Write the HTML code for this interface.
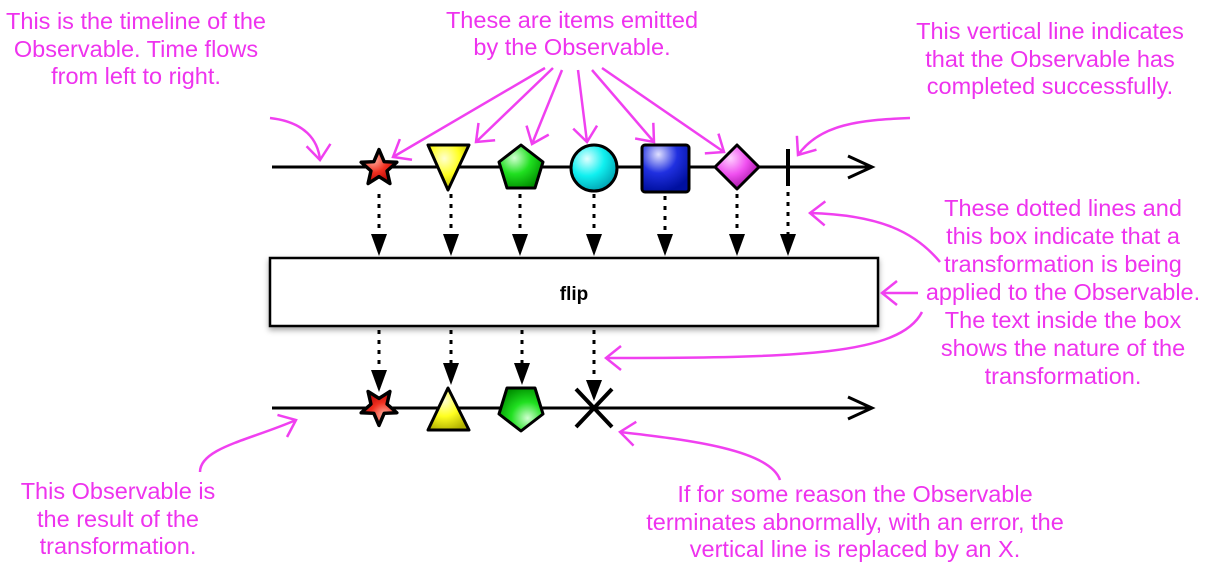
<!DOCTYPE html>
<html><head><meta charset="utf-8"><style>
body{margin:0;background:#fff;width:1210px;height:570px;overflow:hidden}
svg{display:block}
.t{font-family:"Liberation Sans",Helvetica,sans-serif;font-size:23.5px;fill:#ee33ee;text-anchor:middle}
.m{stroke:#f040f0;stroke-width:2.5;fill:none}
.k{stroke:#000;stroke-width:3;fill:none}
.d{stroke:#000;stroke-width:3;stroke-dasharray:4 6;fill:none}
.s{stroke:#000;stroke-width:3;stroke-linejoin:round}
</style></head><body>
<svg width="1210" height="570" viewBox="0 0 1210 570">
<defs>
<marker id="ma" viewBox="0 0 12 12" refX="11" refY="6" markerWidth="12" markerHeight="12" orient="auto" markerUnits="userSpaceOnUse" style="overflow:visible">
<path d="M-4,-6 L11,6 L-4,18" stroke="#f040f0" stroke-width="2.5" fill="none"/>
</marker>
<radialGradient id="gr" cx="35%" cy="30%" r="75%"><stop offset="0" stop-color="#ffb0a0"/><stop offset=".5" stop-color="#f03020"/><stop offset="1" stop-color="#b00000"/></radialGradient>
<radialGradient id="gy" cx="40%" cy="30%" r="75%"><stop offset="0" stop-color="#ffffd0"/><stop offset=".5" stop-color="#ffff20"/><stop offset="1" stop-color="#b0b000"/></radialGradient>
<radialGradient id="gg" cx="35%" cy="30%" r="75%"><stop offset="0" stop-color="#d0ffd0"/><stop offset=".5" stop-color="#20e020"/><stop offset="1" stop-color="#009000"/></radialGradient>
<radialGradient id="gc" cx="35%" cy="30%" r="75%"><stop offset="0" stop-color="#e0ffff"/><stop offset=".5" stop-color="#10f0f0"/><stop offset="1" stop-color="#00a0b0"/></radialGradient>
<radialGradient id="gb" cx="35%" cy="20%" r="80%"><stop offset="0" stop-color="#e0e0ff"/><stop offset=".5" stop-color="#2030e0"/><stop offset="1" stop-color="#0010a0"/></radialGradient>
<radialGradient id="gm" cx="35%" cy="30%" r="75%"><stop offset="0" stop-color="#ffd0ff"/><stop offset=".5" stop-color="#f050f0"/><stop offset="1" stop-color="#a010a0"/></radialGradient>
</defs>

<line x1="272" y1="167" x2="872" y2="167" class="k"/>
<path d="M848,156 L872,167 L848,178" class="k"/>
<path transform="translate(379,168) scale(1.15)" d="M0,-16 L4.5,-5.5 L15.5,-5 L7,2.5 L9.5,13.5 L0,7.5 L-9.5,13.5 L-7,2.5 L-15.5,-5 L-4.5,-5.5Z" fill="url(#gr)" class="s"/>
<path d="M428,145 L469,145 L448,190Z" fill="url(#gy)" class="s"/>
<path transform="translate(521,168)" d="M0,-23 L22,-6 L14,20 L-14,20 L-22,-6Z" fill="url(#gg)" class="s"/>
<circle cx="594" cy="168" r="23" fill="url(#gc)" class="s"/>
<rect x="642" y="145" width="47" height="47" rx="3" fill="url(#gb)" class="s"/>
<path d="M737,145 L759,167 L737,189 L715,167Z" fill="url(#gm)" class="s"/>
<line x1="788" y1="149" x2="788" y2="186" stroke="#000" stroke-width="4"/>

<g>
<line x1="379" y1="194" x2="379" y2="236" class="d"/><path d="M371,234 L387,234 L379,256Z"/>
<line x1="451" y1="194" x2="451" y2="236" class="d"/><path d="M443,234 L459,234 L451,256Z"/>
<line x1="520" y1="194" x2="520" y2="236" class="d"/><path d="M512,234 L528,234 L520,256Z"/>
<line x1="594" y1="194" x2="594" y2="236" class="d"/><path d="M586,234 L602,234 L594,256Z"/>
<line x1="665" y1="196" x2="665" y2="236" class="d"/><path d="M657,234 L673,234 L665,256Z"/>
<line x1="737" y1="194" x2="737" y2="236" class="d"/><path d="M729,234 L745,234 L737,256Z"/>
<line x1="788" y1="192" x2="788" y2="236" class="d"/><path d="M780,234 L796,234 L788,256Z"/>
</g>

<rect x="270" y="258" width="608" height="68" fill="#fff" stroke="#000" stroke-width="2.5" style="filter:drop-shadow(0 3px 3px rgba(0,0,0,.35))"/>
<text x="574" y="300" style="font-family:'Liberation Sans',sans-serif;font-size:19px;font-weight:bold;text-anchor:middle">flip</text>

<line x1="379" y1="330" x2="379" y2="372" class="d"/><path d="M371,370 L387,370 L379,392Z"/>
<line x1="451" y1="330" x2="451" y2="365" class="d"/><path d="M443,363 L459,363 L451,385Z"/>
<line x1="522" y1="330" x2="522" y2="365" class="d"/><path d="M514,363 L530,363 L522,385Z"/>
<line x1="594" y1="330" x2="594" y2="380" class="d"/><path d="M586,380 L602,380 L594,401Z"/>

<line x1="272" y1="408" x2="872" y2="408" class="k"/>
<path d="M848,397 L872,408 L848,419" class="k"/>
<path transform="translate(379,407) rotate(180) scale(1.15)" d="M0,-16 L4.5,-5.5 L15.5,-5 L7,2.5 L9.5,13.5 L0,7.5 L-9.5,13.5 L-7,2.5 L-15.5,-5 L-4.5,-5.5Z" fill="url(#gr)" class="s"/>
<path d="M448,388 L469,430 L428,430Z" fill="url(#gy)" class="s"/>
<path transform="translate(521,408) rotate(180)" d="M0,-23 L22,-6 L14,20 L-14,20 L-22,-6Z" fill="url(#gg)" class="s"/>
<path d="M576,389 L612,427 M612,389 L576,427" stroke="#000" stroke-width="4"/>

<path class="m" marker-end="url(#ma)" d="M270,118 C305,122 318,140 320,160"/>
<path class="m" marker-end="url(#ma)" d="M545,68 L393,157"/>
<path class="m" marker-end="url(#ma)" d="M553,68 L476,142"/>
<path class="m" marker-end="url(#ma)" d="M562,70 L532,144"/>
<path class="m" marker-end="url(#ma)" d="M578,70 L587,142"/>
<path class="m" marker-end="url(#ma)" d="M592,70 L654,142"/>
<path class="m" marker-end="url(#ma)" d="M602,68 L724,152"/>
<path class="m" marker-end="url(#ma)" d="M910,118 C860,120 820,124 798,155"/>
<path class="m" marker-end="url(#ma)" d="M940,262 C915,232 880,215 810,213"/>
<path class="m" marker-end="url(#ma)" d="M918,293 L882,293"/>
<path class="m" marker-end="url(#ma)" d="M922,312 C900,355 800,358 606,358"/>
<path class="m" marker-end="url(#ma)" d="M200,472 C200,448 250,440 296,420"/>
<path class="m" marker-end="url(#ma)" d="M780,480 C770,450 690,440 620,432"/>

<g class="t">
<text x="136" y="29">This is the timeline of the</text>
<text x="136" y="57">Observable. Time flows</text>
<text x="136" y="84">from left to right.</text>
<text x="572" y="28">These are items emitted</text>
<text x="572" y="55">by the Observable.</text>
<text x="1050" y="39">This vertical line indicates</text>
<text x="1050" y="67">that the Observable has</text>
<text x="1050" y="94">completed successfully.</text>
<text x="1063" y="216">These dotted lines and</text>
<text x="1063" y="244">this box indicate that a</text>
<text x="1063" y="272">transformation is being</text>
<text x="1063" y="300">applied to the Observable.</text>
<text x="1063" y="328">The text inside the box</text>
<text x="1063" y="356">shows the nature of the</text>
<text x="1063" y="384">transformation.</text>
<text x="118" y="499">This Observable is</text>
<text x="118" y="527">the result of the</text>
<text x="118" y="554">transformation.</text>
<text x="855" y="502">If for some reason the Observable</text>
<text x="855" y="530">terminates abnormally, with an error, the</text>
<text x="855" y="557">vertical line is replaced by an X.</text>
</g>
</svg>
</body></html>
